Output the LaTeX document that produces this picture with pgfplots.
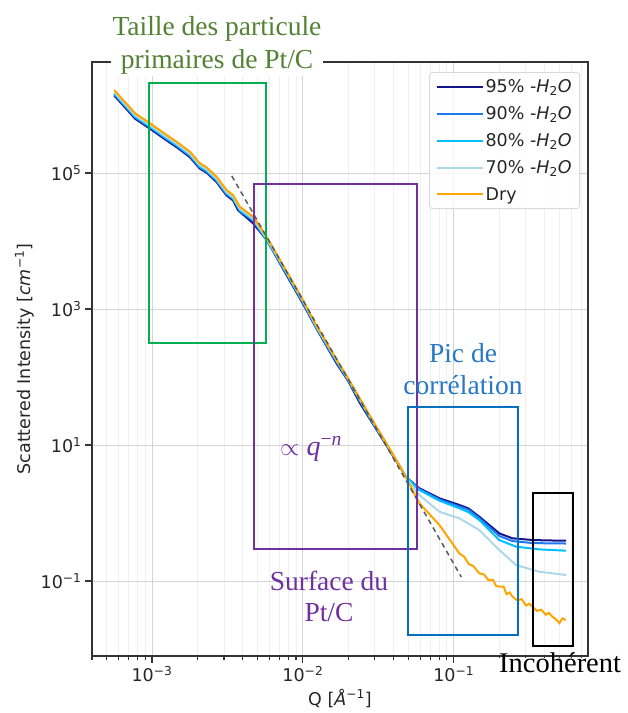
\documentclass[border=0pt]{standalone}
\usepackage{pgfplots}
\pgfplotsset{compat=1.18}
\usepackage{fontspec}
\setmainfont{DejaVu Sans}
\newfontfamily\wordfont{Liberation Serif}

\definecolor{c95}{RGB}{20,20,140}
\definecolor{c90}{RGB}{30,120,240}
\definecolor{c80}{RGB}{0,191,255}
\definecolor{c70}{RGB}{173,216,230}
\definecolor{cdry}{RGB}{255,165,0}
\definecolor{boxgreen}{HTML}{00B050}
\definecolor{txtgreen}{HTML}{548235}
\definecolor{purp}{HTML}{7030A0}
\definecolor{boxblue}{HTML}{0070C0}
\definecolor{txtblue}{HTML}{2678C4}

\begin{document}
\begin{tikzpicture}
\useasboundingbox (0pt,0pt) rectangle (628pt,-713pt);
\begin{axis}[
    at={(92pt,-656pt)}, anchor=south west,
    scale only axis,
    width=496pt, height=594pt,
    xmode=log, ymode=log,
    xmin=4.0e-4, xmax=0.776,
    ymin=7.89e-3, ymax=4.29e6,
    xtick={1e-3,1e-2,1e-1},
    xticklabels={10\textsuperscript{−3},10\textsuperscript{−2},10\textsuperscript{−1}},
    minor xtick={4e-4,5e-4,6e-4,7e-4,8e-4,9e-4,2e-3,3e-3,4e-3,5e-3,6e-3,7e-3,8e-3,9e-3,
                 2e-2,3e-2,4e-2,5e-2,6e-2,7e-2,8e-2,9e-2,2e-1,3e-1,4e-1,5e-1,6e-1,7e-1},
    ytick={1e-1,1e1,1e3,1e5},
    yticklabels={10\textsuperscript{−1},10\textsuperscript{1},10\textsuperscript{3},10\textsuperscript{5}},
    minor ytick={},
    xmajorgrids, xminorgrids, ymajorgrids,
    major grid style={draw=black!17, line width=1pt},
    minor grid style={draw=black!6, line width=0.8pt},
    axis line style={draw=black!80, line width=1.6pt},
    tick align=outside, tick pos=left,
    major tick length=7pt, minor tick length=4pt,
    every tick/.style={black!80, line width=1.2pt},
    tick label style={font=\fontsize{17.5}{21}\selectfont, text=black!85},
    label style={font=\fontsize{17.5}{21}\selectfont, text=black!85},
    xlabel={Q [\textit{Å}\textsuperscript{−1}]},
    ylabel={Scattered Intensity [\textit{cm}\textsuperscript{−1}]},
    legend cell align=left,
    legend image code/.code={\draw[#1] (0pt,0pt) -- (36pt,0pt);
                             \path (0pt,0pt) -- (46pt,0pt);},
    legend style={at={(1,1)}, anchor=north east, xshift=-8pt, yshift=-10pt,
        draw=black!15, line width=0.8pt, rounded corners=3pt,
        fill=white, fill opacity=0.8, text opacity=1,
        font=\fontsize{17.5}{21}\selectfont, text=black!85,
        inner xsep=6pt, inner ysep=5pt, row sep=8.5pt},
]
% 95% -H2O
\addplot[c95, line width=2pt] coordinates {
(5.61e-4,1.384e6) (7.73e-4,6.28e5) (9.70e-4,4.48e5) (1.250e-3,3.01e5)
(1.455e-3,2.40e5) (1.782e-3,1.71e5) (2.075e-3,1.16e5) (2.301e-3,1.01e5)
(2.679e-3,7.35e4) (3.119e-3,4.68e4) (3.451e-3,3.94e4) (3.707e-3,2.86e4)
(4.656e-3,1.84e4) (5.741e-3,1.05e4) (7.586e-3,3500) (1.0e-2,1200)
(1.227e-2,520) (1.667e-2,160) (1.995e-2,88) (2.377e-2,42)
(2.951e-2,19.5) (3.565e-2,10.0) (4.365e-2,4.9) (4.831e-2,3.35)
(5.916e-2,2.31) (8.035e-2,1.644) (0.1089,1.312) (0.125,1.17)
(0.1476,0.883) (0.2004,0.502) (0.2443,0.425) (0.3311,0.401)
(0.42,0.395) (0.556,0.392)
};
\addlegendentry{95\% -\textit{H}\textsubscript{2}\textit{O}}
% 90% -H2O
\addplot[c90, line width=2pt] coordinates {
(5.61e-4,1.448e6) (7.73e-4,6.58e5) (9.70e-4,4.69e5) (1.250e-3,3.15e5)
(1.455e-3,2.51e5) (1.782e-3,1.79e5) (2.075e-3,1.21e5) (2.301e-3,1.05e5)
(2.679e-3,7.69e4) (3.119e-3,4.90e4) (3.451e-3,4.13e4) (3.819e-3,2.78e4)
(4.677e-3,1.99e4) (5.741e-3,1.05e4) (7.586e-3,3650) (1.0e-2,1250)
(1.227e-2,530) (1.667e-2,168) (1.995e-2,90) (2.377e-2,45)
(2.951e-2,20) (3.565e-2,10.2) (4.365e-2,4.95) (4.831e-2,3.35)
(5.916e-2,2.25) (8.035e-2,1.581) (0.1089,1.247) (0.125,1.12)
(0.1476,0.843) (0.2004,0.459) (0.2443,0.387) (0.3311,0.362)
(0.42,0.358) (0.556,0.356)
};
\addlegendentry{90\% -\textit{H}\textsubscript{2}\textit{O}}
% 80% -H2O
\addplot[c80, line width=2pt] coordinates {
(5.61e-4,1.482e6) (7.73e-4,6.73e5) (9.70e-4,4.79e5) (1.250e-3,3.23e5)
(1.455e-3,2.57e5) (1.782e-3,1.84e5) (2.075e-3,1.24e5) (2.301e-3,1.08e5)
(2.679e-3,7.87e4) (3.119e-3,5.01e4) (3.451e-3,4.22e4) (3.819e-3,2.84e4)
(4.677e-3,2.03e4) (5.741e-3,1.07e4) (7.586e-3,3700) (1.0e-2,1280)
(1.227e-2,540) (1.667e-2,172) (1.995e-2,92) (2.377e-2,46)
(2.951e-2,20.5) (3.565e-2,10.4) (4.365e-2,5.0) (4.831e-2,3.35)
(5.916e-2,2.178) (8.035e-2,1.517) (0.1089,1.172) (0.125,1.03)
(0.1476,0.789) (0.2004,0.401) (0.2582,0.320) (0.368,0.292)
(0.556,0.279)
};
\addlegendentry{80\% -\textit{H}\textsubscript{2}\textit{O}}
% 70% -H2O
\addplot[c70, line width=2pt] coordinates {
(5.61e-4,1.552e6) (7.73e-4,7.04e5) (9.70e-4,5.02e5) (1.250e-3,3.38e5)
(1.455e-3,2.69e5) (1.782e-3,1.92e5) (2.075e-3,1.30e5) (2.301e-3,1.13e5)
(2.679e-3,8.24e4) (3.119e-3,5.24e4) (3.451e-3,4.42e4) (3.819e-3,2.98e4)
(4.677e-3,2.13e4) (5.741e-3,1.10e4) (7.586e-3,3850) (1.0e-2,1320)
(1.227e-2,560) (1.667e-2,178) (1.995e-2,94) (2.377e-2,48)
(2.951e-2,21) (3.565e-2,10.6) (4.365e-2,5.0) (4.831e-2,3.3)
(5.916e-2,1.841) (8.035e-2,1.045) (0.1089,0.836) (0.1476,0.562)
(0.2004,0.286) (0.2582,0.172) (0.368,0.137) (0.556,0.1225)
};
\addlegendentry{70\% -\textit{H}\textsubscript{2}\textit{O}}
% Dry
\addplot[cdry, line width=2pt] coordinates {
(5.61e-4,1.663e6) (7.73e-4,7.55e5) (9.70e-4,5.38e5) (1.250e-3,3.62e5)
(1.455e-3,2.88e5) (1.782e-3,2.06e5) (2.075e-3,1.39e5) (2.301e-3,1.21e5)
(2.679e-3,8.83e4) (3.119e-3,5.62e4) (3.451e-3,4.74e4) (3.819e-3,3.19e4)
(4.677e-3,2.28e4) (5.741e-3,1.16e4) (7.586e-3,3981) (1.0e-2,1355)
(1.227e-2,575) (1.667e-2,182) (1.995e-2,95.5) (2.377e-2,49.0)
(2.951e-2,21.4) (3.565e-2,10.7) (4.365e-2,5.01) (4.831e-2,3.31)
(5.916e-2,1.39) (8.035e-2,0.667) (0.1089,0.255) (0.1175,0.226)
(0.1259,0.1766) (0.1349,0.1660) (0.1476,0.130) (0.1585,0.1250)
(0.1698,0.1030) (0.1820,0.1042) (0.1905,0.0849) (0.2004,0.0824)
(0.2138,0.0830) (0.2239,0.0640) (0.2344,0.0679) (0.2455,0.0587)
(0.2630,0.0520) (0.2818,0.0541) (0.3020,0.04355) (0.3162,0.04645)
(0.3327,0.0419) (0.3548,0.0364) (0.3802,0.0378) (0.4074,0.0319)
(0.4266,0.0340) (0.4508,0.0299) (0.4786,0.0270) (0.5012,0.0240)
(0.5248,0.0282) (0.5534,0.0267)
};
\addlegendentry{Dry}
% Porod-like guide
\addplot[black!65, line width=1.5pt, dash pattern=on 5pt off 4pt, forget plot]
    coordinates {(3.38e-3,9.04e4) (0.1122,0.1146)};
\end{axis}
% overlay annotations (image pixel frame: x right, y down)
\draw[boxgreen, line width=2.5pt] (149pt,-83pt) rectangle (266pt,-343pt);
\draw[purp, line width=2.5pt] (254pt,-184pt) rectangle (417pt,-549pt);
\draw[boxblue, line width=2.5pt] (408pt,-407pt) rectangle (518pt,-635pt);
\draw[black, line width=2.5pt] (533pt,-493pt) rectangle (573pt,-646pt);
\node[fill=white, inner sep=2pt, align=center, text=txtgreen,
      font=\wordfont\fontsize{27.5}{33}\selectfont] at (217pt,-45pt)
      {Taille des particule\\primaires de Pt/C};
\node[align=center, text=txtblue, font=\wordfont\fontsize{27.5}{32}\selectfont]
      at (463pt,-369pt) {Pic de\\corrélation};
\node[align=center, text=purp, font=\wordfont\fontsize{27.5}{31}\selectfont]
      at (329pt,-596pt) {Surface du\\Pt/C};
\node[anchor=base west, text=purp, inner sep=0pt, font=\wordfont\fontsize{28}{32}\selectfont]
      at (280pt,-455pt) {$\propto$\hspace{7pt}\textit{q}\textsuperscript{−\textit{n}}};
\fill[white] (484pt,-658pt) rectangle (628pt,-690pt);
\node[anchor=base west, inner sep=0pt, font=\wordfont\fontsize{28.5}{32}\selectfont]
      at (499pt,-672pt) {Incohérent};
\end{tikzpicture}
\end{document}
